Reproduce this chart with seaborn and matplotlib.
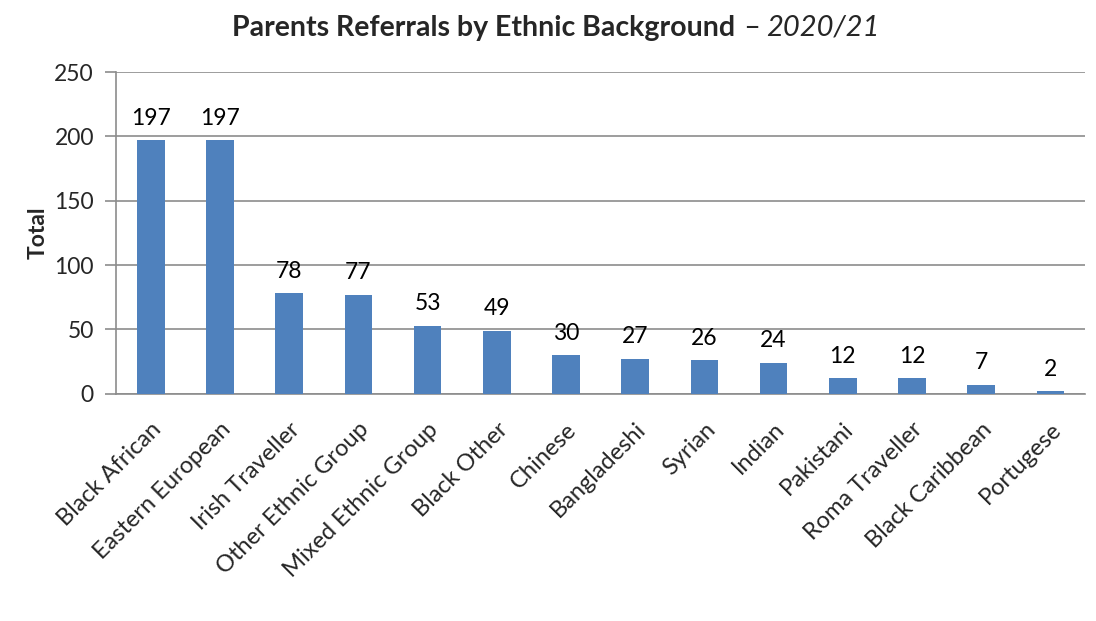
import matplotlib
matplotlib.use('Agg')
import matplotlib.pyplot as plt
import seaborn as sns
import pandas as pd
import numpy as np

# 데이터
categories = ['Black African', 'Eastern European', 'Irish Traveller', 'Other Ethnic Group',
              'Mixed Ethnic Group', 'Black Other', 'Chinese', 'Bangladeshi', 'Syrian',
              'Indian', 'Pakistani', 'Roma Traveller', 'Black Caribbean', 'Portugese']
totals = [197, 197, 78, 77, 53, 49, 30, 27, 26, 24, 12, 12, 7, 2]
y_ticks = [0, 50, 100, 150, 200, 250]

df = pd.DataFrame({'category': categories, 'total': totals})

sns.set_style('white')
plt.rcParams['font.family'] = ['Lato', 'DejaVu Sans']

fig = plt.figure(figsize=(10.96, 6.21), dpi=100)
ax = fig.add_axes([0.106, 0.366, 0.884, 0.518])

sns.barplot(data=df, x='category', y='total', color='#4F81BD', width=0.4,
            saturation=1, linewidth=0, edgecolor='none', ax=ax, zorder=3)

for i, v in enumerate(totals):
    ax.text(i, v + 9, str(v), ha='center', va='bottom', fontsize=16.5, color='black')

ax.set_ylim(0, 250)
ax.set_yticks(y_ticks)
ax.set_xlim(-0.5, len(categories) - 0.5)
ax.grid(axis='y', color='#8C8C8C', linewidth=1.2, zorder=0)
for s in ['top', 'right']:
    ax.spines[s].set_visible(False)
for s in ['left', 'bottom']:
    ax.spines[s].set_color('#8C8C8C')
    ax.spines[s].set_linewidth(1.2)

ax.set_xticks(np.arange(len(categories)))
ax.set_xticklabels(categories, rotation=45, ha='right', rotation_mode='anchor', fontsize=17)
ax.tick_params(axis='x', length=0, pad=18)
ax.set_xticks(np.arange(len(categories) + 1) - 0.5, minor=True)
ax.tick_params(axis='x', which='minor', length=7, color='#8C8C8C', width=1.2, direction='out')
ax.tick_params(axis='y', labelsize=16.5, length=8, color='#8C8C8C', width=1.2, direction='out',
               left=True, pad=8)

ax.set_xlabel('')
ax.set_ylabel('Total', fontsize=16.5, fontweight='bold', labelpad=4)

# 제목 (굵게 + 대시 + 기울임)
fig.text(0.671, 0.955, 'Parents Referrals by Ethnic Background', ha='right', va='center',
         fontsize=20.5, fontweight='bold')
fig.text(0.672, 0.955, ' \u2013 ', ha='left', va='center', fontsize=20.5)
fig.text(0.699, 0.955, '2020/21', ha='left', va='center', fontsize=21, style='italic')

fig.savefig('out.png', dpi=100)
